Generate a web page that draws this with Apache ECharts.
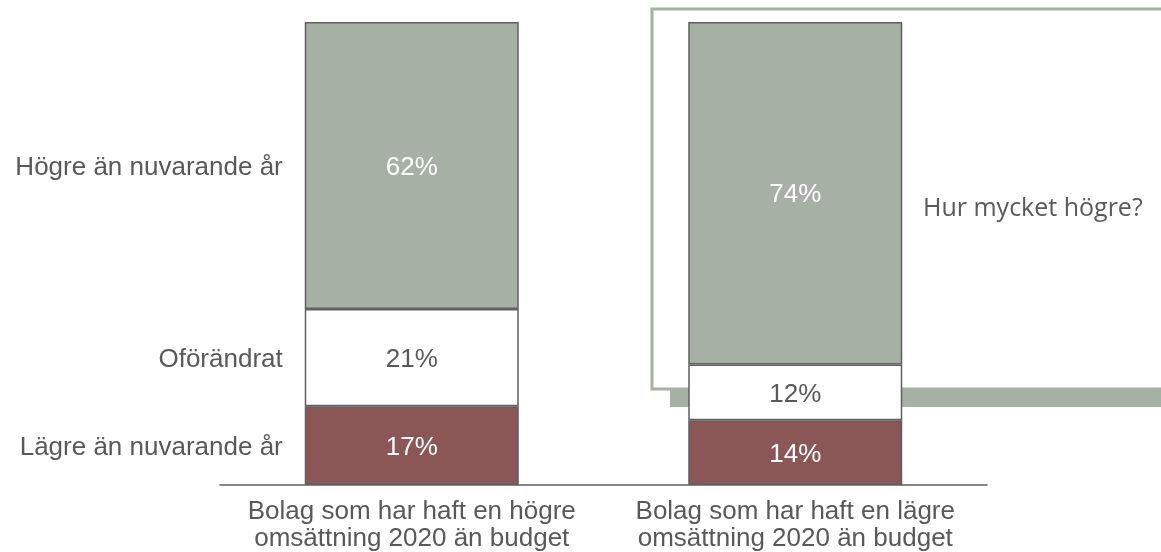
<!DOCTYPE html>
<html>
<head>
<meta charset="utf-8">
<script src="https://cdn.jsdelivr.net/npm/echarts@6/dist/echarts.min.js"></script>
<style>html,body{margin:0;padding:0;background:#fff;}#c{width:1161px;height:552px;}</style>
</head>
<body>
<div id="c"></div>
<script>
const categories = ['Bolag som har haft en högre\nomsättning 2020 än budget', 'Bolag som har haft en lägre\nomsättning 2020 än budget'];
const segmentNames = ['Lägre än nuvarande år', 'Oförändrat', 'Högre än nuvarande år'];
const lagre = [17, 14];
const oforandrat = [21, 12];
const hogre = [62, 74];
const calloutText = 'Hur mycket högre?';

const segValues = [lagre, oforandrat, hogre];
const segColors = ['#8b5756', '#ffffff', '#a6b0a4'];
const labelColors = ['#ffffff', '#595959', '#ffffff'];
const FONT = 'Liberation Sans, Arial, sans-serif';

const chart = echarts.init(document.getElementById('c'));
const series = [];
segValues.forEach((vals, i) => {
  series.push({
    name: segmentNames[i],
    type: 'bar',
    stack: 'main',
    barWidth: 214,
    z: 3,
    data: vals,
    itemStyle: { color: segColors[i], borderColor: '#5f5f5f', borderWidth: 1.5 },
    label: {
      show: true, position: 'inside', formatter: '{c}%', offset: [0, 2],
      color: labelColors[i], fontSize: 26, fontFamily: FONT
    }
  });
});
segValues.forEach((vals, i) => {
  series.push({
    name: segmentNames[i] + ' ',
    type: 'bar',
    stack: 'names',
    barWidth: 214,
    barGap: '-100%',
    silent: true,
    z: 1,
    data: vals.map((v, j) => ({ value: v, label: { show: j === 0 } })),
    itemStyle: { color: 'rgba(0,0,0,0)', borderWidth: 0 },
    label: {
      position: 'left', distance: 22, formatter: segmentNames[i], offset: [0, 2],
      color: '#595959', fontSize: 26, fontFamily: FONT
    }
  });
});

chart.setOption({
  animation: false,
  backgroundColor: '#ffffff',
  grid: { left: 220, right: 174, top: 22, bottom: 64, containLabel: false },
  xAxis: {
    type: 'category', data: categories,
    axisLine: { lineStyle: { color: '#5f5f5f', width: 1.5 } },
    axisTick: { show: false },
    axisLabel: { color: '#595959', fontSize: 26, fontFamily: FONT, lineHeight: 27, margin: 13, interval: 0 }
  },
  yAxis: { type: 'value', min: 0, max: 100, show: false },
  graphic: [
    { type: 'rect', z: -10, shape: { x: 670, y: 25, width: 540, height: 382 }, style: { fill: '#a6b0a4' } },
    { type: 'rect', z: -9, shape: { x: 652, y: 9, width: 540, height: 380 }, style: { fill: '#ffffff', stroke: '#a6b0a4', lineWidth: 3 } },
    { type: 'text', z: 10, left: 923, top: 196, style: { text: calloutText, fill: '#595959', fontSize: 25, fontFamily: 'Open Sans, Noto Sans, sans-serif' } }
  ],
  series: series
});
</script>
</body>
</html>
